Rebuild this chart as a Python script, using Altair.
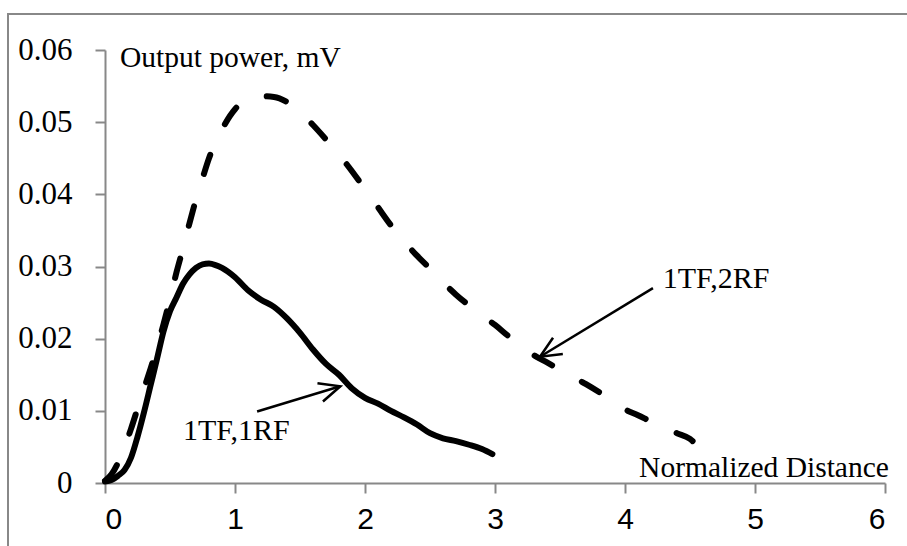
import math
import altair as alt
import pandas as pd

# ---- data ----
x_1rf = [0, 0.05, 0.1, 0.15, 0.2, 0.25, 0.3, 0.35, 0.4, 0.45, 0.5, 0.55, 0.6, 0.65,
         0.7, 0.75, 0.8, 0.85, 0.9, 1.0, 1.1, 1.2, 1.3, 1.4, 1.5, 1.6, 1.7, 1.8,
         1.9, 2.0, 2.1, 2.2, 2.3, 2.4, 2.5, 2.6, 2.7, 2.8, 2.9, 2.98]
y_1rf = [0.0002, 0.0004, 0.001, 0.0018, 0.0035, 0.0064, 0.0098, 0.0135, 0.0172,
         0.0210, 0.0238, 0.0257, 0.0276, 0.0289, 0.0298, 0.0303, 0.0304, 0.0302,
         0.0298, 0.0285, 0.0267, 0.0254, 0.0244, 0.0228, 0.0208, 0.0185, 0.0165,
         0.0150, 0.0131, 0.0118, 0.0110, 0.0100, 0.0091, 0.0081, 0.0069, 0.0062,
         0.0058, 0.0053, 0.0047, 0.0040]

x_2rf = [0, 0.05, 0.1, 0.15, 0.2, 0.25, 0.3, 0.35, 0.4, 0.45, 0.5, 0.55, 0.6, 0.65,
         0.7, 0.75, 0.8, 0.9, 1.0, 1.1, 1.2, 1.3, 1.4, 1.5, 1.6, 1.7, 1.8, 1.9,
         2.0, 2.1, 2.2, 2.3, 2.4, 2.5, 2.6, 2.7, 2.8, 2.9, 3.0, 3.1, 3.2, 3.3,
         3.4, 3.5, 3.6, 3.7, 3.8, 3.9, 4.0, 4.1, 4.2, 4.3, 4.4, 4.5, 4.52]
y_2rf = [0.0003, 0.0012, 0.0028, 0.0050, 0.0075, 0.0103, 0.0131, 0.0158, 0.0188,
         0.0220, 0.0255, 0.0292, 0.0325, 0.0360, 0.0393, 0.0422, 0.0450, 0.0490,
         0.0518, 0.0532, 0.0536, 0.0535, 0.0528, 0.0514, 0.0496, 0.0476, 0.0455,
         0.0432, 0.0407, 0.0382, 0.0357, 0.0335, 0.0315, 0.0297, 0.0278, 0.0261,
         0.0246, 0.0232, 0.0219, 0.0204, 0.0190, 0.0177, 0.0167, 0.0157, 0.0147,
         0.0137, 0.0126, 0.0114, 0.0102, 0.0094, 0.0085, 0.0077, 0.0069, 0.0061,
         0.0058]

x_ticks = [0, 1, 2, 3, 4, 5, 6]
y_ticks = [0, 0.01, 0.02, 0.03, 0.04, 0.05, 0.06]

label_text = ["1TF,1RF", "1TF,2RF"]
label_x = [0.60, 4.29]
label_y = [0.0059, 0.0270]

arrow_x0 = [1.17, 4.215]
arrow_y0 = [0.0099, 0.0270]
arrow_x1 = [1.81, 3.346]
arrow_y1 = [0.0134, 0.0175]

title_text = ["Output power, mV", "Normalized Distance"]
title_x = [0.115, 6.03]
title_y = [0.0577, 0.0008]

# ---- layout ----
W, H = 780, 433
PL, PT = 105, 50
XMAX, YMAX = 6, 0.06
px_x = W / XMAX
px_y = H / YMAX

SERIF = "Liberation Serif"
SANS = "Liberation Sans"
GRAY = "#888888"

xs = alt.Scale(domain=[0, XMAX], nice=False, zero=False)
ys = alt.Scale(domain=[0, YMAX], nice=False, zero=False)

df1 = pd.DataFrame({"x": x_1rf, "y": y_1rf})
df2 = pd.DataFrame({"x": x_2rf, "y": y_2rf})

xaxis = alt.Axis(values=x_ticks, title=None, labelFont=SANS, labelFontSize=30,
                 labelPadding=11, format="d")
yaxis = alt.Axis(values=y_ticks, title=None, labelFont=SERIF, labelFontSize=31,
                 labelPadding=23, format=".2~f")

frame = alt.Chart(alt.Data(values=[{}])).mark_rect(
    fill=None, stroke=GRAY, strokeWidth=2
).encode(x=alt.value(-97), x2=alt.value(1000), y=alt.value(-36), y2=alt.value(800))

line1 = alt.Chart(df1).mark_line(
    color="black", strokeWidth=6, strokeCap="round", strokeJoin="round",
    interpolate="monotone"
).encode(x=alt.X("x:Q", scale=xs, axis=xaxis), y=alt.Y("y:Q", scale=ys, axis=yaxis))

line2 = alt.Chart(df2).mark_line(
    color="black", strokeWidth=6, strokeCap="round", strokeJoin="round",
    strokeDash=[20, 34], interpolate="monotone"
).encode(x=alt.X("x:Q", scale=xs), y=alt.Y("y:Q", scale=ys))

angles = []
for a, b, c, d in zip(arrow_x0, arrow_y0, arrow_x1, arrow_y1):
    ang = math.degrees(math.atan2(-(d - b) * px_y, (c - a) * px_x)) % 360
    angles.append(ang)
arr = pd.DataFrame({"x0": arrow_x0, "y0": arrow_y0, "x1": arrow_x1,
                    "y1": arrow_y1, "angle": angles})

shafts = alt.Chart(arr).mark_rule(color="black", strokeWidth=2.5).encode(
    x=alt.X("x0:Q", scale=xs), y=alt.Y("y0:Q", scale=ys),
    x2="x1:Q", y2="y1:Q")

heads = alt.Chart(arr).mark_point(
    shape="M -1 -0.45 L 0 0 L -1 0.45", filled=False, color="black",
    strokeWidth=2.5, size=1764, opacity=1
).encode(x=alt.X("x1:Q", scale=xs), y=alt.Y("y1:Q", scale=ys),
         angle=alt.Angle("angle:Q", scale=None))

labels = alt.Chart(pd.DataFrame({"t": label_text, "x": label_x, "y": label_y})).mark_text(
    font=SERIF, fontSize=30, align="left", baseline="alphabetic", color="black"
).encode(x=alt.X("x:Q", scale=xs), y=alt.Y("y:Q", scale=ys), text="t:N")

tdf = pd.DataFrame({"t": title_text, "x": title_x, "y": title_y})
t_left = alt.Chart(tdf.iloc[[0]]).mark_text(
    font=SERIF, fontSize=29.5, align="left", baseline="alphabetic", color="black"
).encode(x=alt.X("x:Q", scale=xs), y=alt.Y("y:Q", scale=ys), text="t:N")
t_right = alt.Chart(tdf.iloc[[1]]).mark_text(
    font=SERIF, fontSize=29.5, align="right", baseline="alphabetic", color="black"
).encode(x=alt.X("x:Q", scale=xs), y=alt.Y("y:Q", scale=ys), text="t:N")

chart = alt.layer(frame, line1, line2, shafts, heads, labels, t_left, t_right).properties(
    width=W, height=H,
    autosize=alt.AutoSizeParams(type="none"),
    padding={"left": PL, "top": PT, "right": 907 - PL - W, "bottom": 546 - PT - H},
    background="white",
).configure_view(stroke=None).configure_axis(
    grid=False, domainColor=GRAY, domainWidth=2, tickColor=GRAY, tickWidth=2,
    tickSize=10, labelColor="black"
)

chart.save("out.html", embed_options={"renderer": "svg", "actions": False})
